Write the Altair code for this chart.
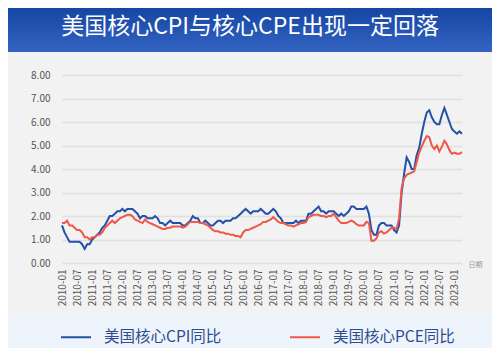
import altair as alt
import pandas as pd

# ---------------- data ----------------
title_text = "美国核心CPI与核心CPE出现一定回落"
series_names = ["美国核心CPI同比", "美国核心PCE同比"]
series_colors = ["#2350a9", "#ef5848"]
x_title = "日期"

start_year = 2010
# monthly YoY (%), 2010-01 .. 2023-04
cpi = [
    1.6, 1.3, 1.1, 0.9, 0.9, 0.9, 0.9, 0.9, 0.8, 0.6, 0.8, 0.8,   # 2010
    1.0, 1.1, 1.2, 1.3, 1.5, 1.6, 1.8, 2.0, 2.0, 2.1, 2.2, 2.2,   # 2011
    2.3, 2.2, 2.3, 2.3, 2.3, 2.2, 2.1, 1.9, 2.0, 2.0, 1.9, 1.9,   # 2012
    1.9, 2.0, 1.9, 1.7, 1.7, 1.6, 1.7, 1.8, 1.7, 1.7, 1.7, 1.7,   # 2013
    1.6, 1.6, 1.7, 1.8, 2.0, 1.9, 1.9, 1.7, 1.7, 1.8, 1.7, 1.6,   # 2014
    1.6, 1.7, 1.8, 1.8, 1.7, 1.8, 1.8, 1.8, 1.9, 1.9, 2.0, 2.1,   # 2015
    2.2, 2.3, 2.2, 2.1, 2.2, 2.2, 2.2, 2.3, 2.2, 2.1, 2.1, 2.2,   # 2016
    2.3, 2.2, 2.0, 1.9, 1.7, 1.7, 1.7, 1.7, 1.7, 1.8, 1.7, 1.8,   # 2017
    1.8, 1.8, 2.1, 2.1, 2.2, 2.3, 2.4, 2.2, 2.2, 2.1, 2.2, 2.2,   # 2018
    2.2, 2.1, 2.0, 2.1, 2.0, 2.1, 2.2, 2.4, 2.4, 2.3, 2.3, 2.3,   # 2019
    2.3, 2.4, 2.1, 1.4, 1.2, 1.2, 1.6, 1.7, 1.7, 1.6, 1.6, 1.6,   # 2020
    1.4, 1.3, 1.6, 3.0, 3.8, 4.5, 4.3, 4.0, 4.0, 4.6, 4.9, 5.5,   # 2021
    6.0, 6.4, 6.5, 6.2, 6.0, 5.9, 5.9, 6.3, 6.6, 6.3, 6.0, 5.7,   # 2022
    5.6, 5.5, 5.6, 5.5,                                           # 2023
]
pce = [
    1.7, 1.7, 1.8, 1.6, 1.6, 1.5, 1.4, 1.4, 1.3, 1.1, 1.1, 1.0,   # 2010
    1.1, 1.1, 1.2, 1.2, 1.3, 1.5, 1.6, 1.7, 1.8, 1.7, 1.8, 1.9,   # 2011
    1.95, 2.0, 2.05, 2.05, 2.0, 1.85, 1.8, 1.75, 1.7, 1.85, 1.75, 1.7,  # 2012
    1.65, 1.6, 1.55, 1.5, 1.45, 1.45, 1.5, 1.5, 1.55, 1.55, 1.55, 1.55,  # 2013
    1.5, 1.55, 1.65, 1.75, 1.75, 1.75, 1.75, 1.7, 1.7, 1.65, 1.6, 1.5,  # 2014
    1.4, 1.35, 1.35, 1.3, 1.3, 1.25, 1.25, 1.2, 1.2, 1.15, 1.15, 1.1,   # 2015
    1.3, 1.4, 1.4, 1.45, 1.5, 1.55, 1.6, 1.65, 1.75, 1.75, 1.8, 1.85,   # 2016
    1.95, 1.85, 1.75, 1.7, 1.7, 1.65, 1.6, 1.6, 1.55, 1.6, 1.65, 1.7,   # 2017
    1.7, 1.75, 1.95, 2.0, 2.05, 2.05, 2.05, 2.0, 2.0, 1.95, 2.0, 2.0,   # 2018
    2.1, 1.95, 1.8, 1.7, 1.7, 1.7, 1.75, 1.8, 1.75, 1.65, 1.6, 1.6,     # 2019
    1.6, 1.75, 1.7, 0.95, 0.95, 1.05, 1.3, 1.35, 1.25, 1.3, 1.4, 1.5,   # 2020
    1.5, 1.45, 1.9, 3.2, 3.6, 3.75, 3.8, 3.85, 3.9, 4.3, 4.7, 4.95,     # 2021
    5.2, 5.4, 5.35, 5.0, 4.85, 5.0, 4.75, 4.95, 5.2, 5.05, 4.8, 4.65,   # 2022
    4.7, 4.65, 4.65, 4.72,                                              # 2023
]
y_ticks = [0, 1, 2, 3, 4, 5, 6, 7, 8]
x_tick_step = 6

# ---------------- build table ----------------
n = len(cpi)
idx = list(range(n))
month_lbl = [f"{start_year + i // 12}-{i % 12 + 1:02d}" for i in idx]
df = pd.concat([
    pd.DataFrame({"idx": idx, "month": month_lbl, "value": cpi, "series": series_names[0]}),
    pd.DataFrame({"idx": idx, "month": month_lbl, "value": pce, "series": series_names[1]}),
])

FONT = "Noto Sans CJK SC"
W, H = 400, 188
PAD_L, PAD_T = 54, 67
TOTAL_W, TOTAL_H = 484, 340

one = pd.DataFrame({"k": [0]})

title_bar = alt.Chart(one).mark_rect(
    fill=alt.Gradient(
        gradient="linear",
        stops=[alt.GradientStop(color="#1646a3", offset=0),
               alt.GradientStop(color="#3464c2", offset=1)],
        x1=0, x2=0, y1=0, y2=1,
    )
).encode(
    x=alt.value(-PAD_L), x2=alt.value(TOTAL_W - PAD_L),
    y=alt.value(-PAD_T), y2=alt.value(-23),
)

title = alt.Chart(one).mark_text(
    text=title_text, font=FONT, fontSize=23, color="white",
    align="center", baseline="middle",
).encode(x=alt.value(188), y=alt.value(-48))

legend_band = alt.Chart(one).mark_rect(fill="#eef4fc").encode(
    x=alt.value(-PAD_L), x2=alt.value(TOTAL_W - PAD_L),
    y=alt.value(239), y2=alt.value(TOTAL_H - PAD_T),
)

lines = alt.Chart(df).mark_line(strokeWidth=2).encode(
    x=alt.X(
        "idx:Q",
        scale=alt.Scale(domain=[0, n - 1], nice=False, zero=False),
        axis=alt.Axis(
            values=list(range(0, n, x_tick_step)),
            labelExpr=f"toString({start_year} + floor(datum.value / 12)) + (datum.value % 12 == 0 ? '-01' : '-07')",
            labelAngle=270, labelPadding=6, labelFontSize=10, labelColor="#555555",
            labelFont=FONT, ticks=False, domain=False, grid=False,
            title=x_title, titleFontSize=7, titleColor="#999999", titleFont=FONT,
            titleFontWeight="normal", titleAnchor="start", titleAlign="left",
            titleBaseline="middle", titleX=406, titleY=1,
        ),
    ),
    y=alt.Y(
        "value:Q",
        scale=alt.Scale(domain=[0, 8], nice=False),
        axis=alt.Axis(
            values=y_ticks, format=".2f", labelPadding=12, labelFontSize=10,
            labelColor="#555555", labelFont=FONT, ticks=False, domain=False,
            gridColor="#e0e0e0", gridWidth=1.3, title=None,
        ),
    ),
    color=alt.Color(
        "series:N",
        scale=alt.Scale(domain=series_names, range=series_colors),
        legend=alt.Legend(
            orient="none", legendX=-2, legendY=246, direction="horizontal",
            title=None, symbolType="stroke", symbolSize=900, symbolStrokeWidth=2,
            labelFontSize=15.5, labelColor="#2f4d8e", labelFont=FONT,
            labelOffset=12, columnPadding=64, padding=0,
        ),
    ),
    order="idx:Q",
)

chart = alt.layer(title_bar, title, legend_band, lines).properties(
    width=W, height=H,
    autosize=alt.AutoSizeParams(type="none"),
    padding={"left": PAD_L, "top": PAD_T, "right": TOTAL_W - PAD_L - W, "bottom": TOTAL_H - PAD_T - H},
    background="#f2f2f2",
).configure_view(stroke=None)

chart.save("out.html", embed_options={"renderer": "svg", "actions": False})
